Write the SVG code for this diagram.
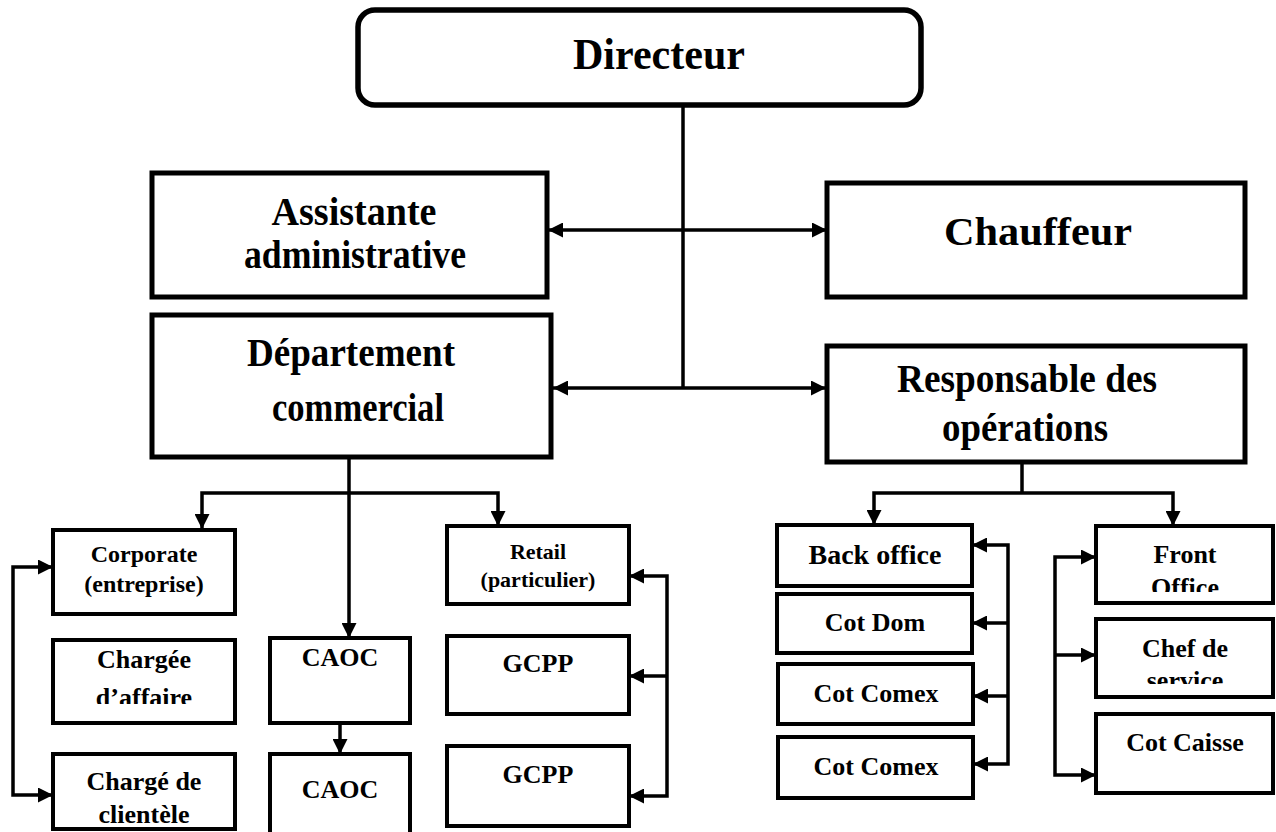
<svg xmlns="http://www.w3.org/2000/svg" width="1276" height="832" viewBox="0 0 1276 832">
<style>
.box{fill:#fff;stroke:#000;stroke-width:5}
.sbox{fill:#fff;stroke:#000;stroke-width:4}
.t{font-family:"Liberation Serif","Times New Roman",serif;font-weight:bold;text-anchor:middle;fill:#000}
.big{font-size:40px}
.sm{font-size:24px}
.md{font-size:26px}
.c{fill:none;stroke:#000;stroke-width:3.5}
</style>
<defs>
<marker id="ah" viewBox="0 0 14 14" refX="14" refY="7" markerWidth="15" markerHeight="15" markerUnits="userSpaceOnUse" orient="auto-start-reverse">
<path d="M0,0 L14,7 L0,14 z" fill="#000"/>
</marker>
<clipPath id="clipChargee"><rect x="53" y="640" width="182" height="64"/></clipPath>
<clipPath id="clipFront"><rect x="1096" y="526" width="177" height="66"/></clipPath>
<clipPath id="clipChef"><rect x="1096" y="619" width="177" height="65"/></clipPath>
</defs>

<g id="connectors">
<path class="c" d="M683,105 V388"/>
<path class="c" d="M548,230 H827" marker-start="url(#ah)" marker-end="url(#ah)"/>
<path class="c" d="M553,388 H826" marker-start="url(#ah)" marker-end="url(#ah)"/>
<path class="c" d="M349,457 V638" marker-end="url(#ah)"/>
<path class="c" d="M202,529 V493 H498 V526" marker-start="url(#ah)" marker-end="url(#ah)"/>
<path class="c" d="M340,723 V754" marker-end="url(#ah)"/>
<path class="c" d="M53,567 H13 V795 H53" marker-start="url(#ah)" marker-end="url(#ah)"/>
<path class="c" d="M629,576 H667 V796 H629" marker-start="url(#ah)" marker-end="url(#ah)"/>
<path class="c" d="M667,676 H629" marker-end="url(#ah)"/>
<path class="c" d="M1022,462 V493"/>
<path class="c" d="M874,525 V493 H1173 V526" marker-start="url(#ah)" marker-end="url(#ah)"/>
<path class="c" d="M972,545 H1008 V764 H973" marker-start="url(#ah)" marker-end="url(#ah)"/>
<path class="c" d="M1008,623 H972" marker-end="url(#ah)"/>
<path class="c" d="M1008,696 H973" marker-end="url(#ah)"/>
<path class="c" d="M1096,557 H1055 V775 H1096" marker-start="url(#ah)" marker-end="url(#ah)"/>
<path class="c" d="M1055,655 H1096" marker-end="url(#ah)"/>
</g>

<g id="directeur">
<rect x="358" y="10" width="563" height="95" rx="17" fill="#fff" stroke="#000" stroke-width="5.5"/>
<text class="t" x="659" y="69" font-size="44" textLength="172" lengthAdjust="spacingAndGlyphs">Directeur</text>
</g>
<g id="assistante">
<rect class="box" x="152" y="173" width="395" height="124"/>
<text class="t big" x="354" y="225" textLength="165" lengthAdjust="spacingAndGlyphs">Assistante</text>
<text class="t big" x="355" y="268" textLength="222" lengthAdjust="spacingAndGlyphs">administrative</text>
</g>
<g id="chauffeur">
<rect class="box" x="827" y="183" width="418" height="114"/>
<text class="t big" x="1038" y="245" textLength="188" lengthAdjust="spacingAndGlyphs">Chauffeur</text>
</g>
<g id="departement">
<rect class="box" x="152" y="315" width="399" height="142"/>
<text class="t big" x="351" y="366" textLength="208" lengthAdjust="spacingAndGlyphs">Département</text>
<text class="t big" x="358" y="421" textLength="172" lengthAdjust="spacingAndGlyphs">commercial</text>
</g>
<g id="responsable">
<rect class="box" x="827" y="346" width="418" height="116"/>
<text class="t big" x="1027" y="392" textLength="260" lengthAdjust="spacingAndGlyphs">Responsable des</text>
<text class="t big" x="1025" y="441" textLength="166" lengthAdjust="spacingAndGlyphs">opérations</text>
</g>

<g id="corporate">
<rect class="sbox" x="53" y="530" width="182" height="84"/>
<text class="t sm" x="144" y="562">Corporate</text>
<text class="t sm" x="144" y="592">(entreprise)</text>
</g>
<g id="chargee">
<rect class="sbox" x="53" y="640" width="182" height="83"/>
<g clip-path="url(#clipChargee)">
<text class="t md" x="144" y="668">Chargée</text>
<text class="t md" x="144" y="706">d’affaire</text>
</g>
</g>
<g id="charge-clientele">
<rect class="sbox" x="53" y="754" width="182" height="75"/>
<text class="t md" x="144" y="790">Chargé de</text>
<text class="t md" x="144" y="823">clientèle</text>
</g>
<g id="caoc1">
<rect class="sbox" x="270" y="638" width="140" height="85"/>
<text class="t md" x="340" y="666">CAOC</text>
</g>
<g id="caoc2">
<rect class="sbox" x="270" y="754" width="140" height="90"/>
<text class="t md" x="340" y="798">CAOC</text>
</g>
<g id="retail">
<rect class="sbox" x="447" y="526" width="182" height="78"/>
<text class="t" font-size="22" x="538" y="559">Retail</text>
<text class="t" font-size="22" x="538" y="587">(particulier)</text>
</g>
<g id="gcpp1">
<rect class="sbox" x="447" y="636" width="182" height="78"/>
<text class="t md" x="538" y="672">GCPP</text>
</g>
<g id="gcpp2">
<rect class="sbox" x="447" y="746" width="182" height="80"/>
<text class="t md" x="538" y="783">GCPP</text>
</g>

<g id="back-office">
<rect class="sbox" x="777" y="525" width="195" height="61"/>
<text class="t" font-size="28" x="875" y="564">Back office</text>
</g>
<g id="cot-dom">
<rect class="sbox" x="777" y="594" width="195" height="59"/>
<text class="t md" x="875" y="631">Cot Dom</text>
</g>
<g id="cot-comex1">
<rect class="sbox" x="778" y="664" width="195" height="60"/>
<text class="t md" x="876" y="702">Cot Comex</text>
</g>
<g id="cot-comex2">
<rect class="sbox" x="778" y="737" width="195" height="61"/>
<text class="t md" x="876" y="775">Cot Comex</text>
</g>
<g id="front-office">
<rect class="sbox" x="1096" y="526" width="177" height="77"/>
<g clip-path="url(#clipFront)">
<text class="t md" x="1185" y="563">Front</text>
<text class="t md" x="1185" y="596">Office</text>
</g>
</g>
<g id="chef-service">
<rect class="sbox" x="1096" y="619" width="177" height="78"/>
<g clip-path="url(#clipChef)">
<text class="t md" x="1185" y="657">Chef de</text>
<text class="t md" x="1185" y="689">service</text>
</g>
</g>
<g id="cot-caisse">
<rect class="sbox" x="1096" y="714" width="177" height="79"/>
<text class="t md" x="1185" y="751">Cot Caisse</text>
</g>
</svg>
